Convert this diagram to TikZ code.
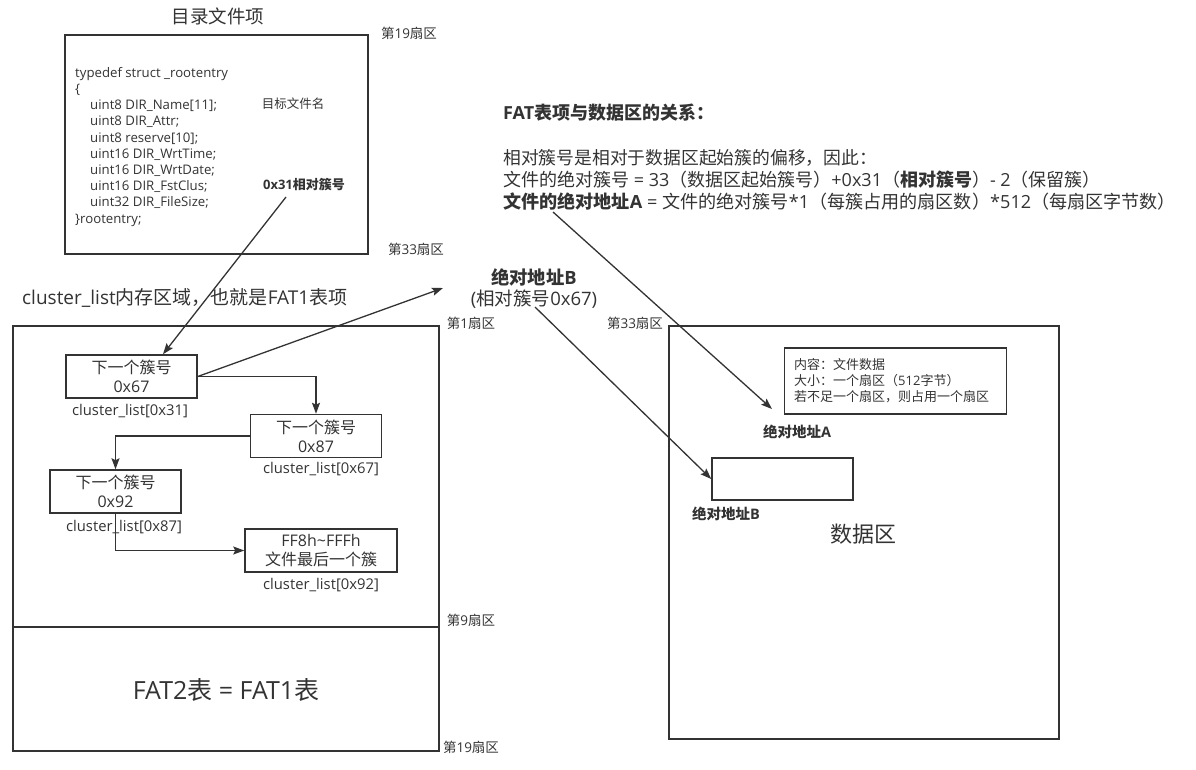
\documentclass[tikz,border=0pt]{standalone}
\usepackage{fontspec}
\setmainfont{Noto Sans CJK SC}
\newfontfamily\latinf{Open Sans}
\usetikzlibrary{arrows.meta}
\definecolor{ink}{HTML}{333333}
\newcommand{\fs}[1]{\fontsize{#1}{#1}\selectfont}
\newcommand{\la}[1]{{\latinf #1}}

\begin{document}
\begin{tikzpicture}[x=1pt, y=-1pt, >={Stealth[length=11pt,width=8pt,inset=2pt]},
    color=ink, text=ink,
    box/.style={draw, line width=1.5pt, align=center, inner sep=0pt},
    entry/.style={box, minimum width=131pt, minimum height=43pt, font={\fontsize{16}{19}\selectfont}, align=center},
    idx/.style={font=\fs{14.8}\latinf, inner sep=0pt},
    sector/.style={font=\fs{13.5}, inner sep=0pt},
    link/.style={->, line width=1.3pt}]
\useasboundingbox (0,0) rectangle (1196,769);

% 目录文件项
\node[font=\fs{18.5}, inner sep=0pt] (dirtitle) at (218,16) {目录文件项};
\node[box, minimum width=303pt, minimum height=219pt] (dir) at (216.5,144.5) {};
\node[sector] (s19a) at (409,33) {第\la{19}扇区};
\node[sector] (s33a) at (416,249) {第\la{33}扇区};
\node[font={\fontsize{13.2}{16.2}\selectfont\latinf}, align=left, anchor=north west, inner sep=0pt] (code) at (75,67)
  {typedef struct \_rootentry\\
   \{\\
   \hspace*{15pt}uint8 DIR\_Name[11];\\
   \hspace*{15pt}uint8 DIR\_Attr;\\
   \hspace*{15pt}uint8 reserve[10];\\
   \hspace*{15pt}uint16 DIR\_WrtTime;\\
   \hspace*{15pt}uint16 DIR\_WrtDate;\\
   \hspace*{15pt}uint16 DIR\_FstClus;\\
   \hspace*{15pt}uint32 DIR\_FileSize;\\
   \}rootentry;};
\node[font=\fs{12.5}, inner sep=0pt] (fname) at (293,104) {目标文件名};
\node[font=\fs{13}\bfseries, inner sep=0pt] (fstclus) at (304,185) {\la{0x31}相对簇号};
\coordinate (fstclusEnd) at (286,197);

% FAT1 / FAT2
\node[font=\fs{19}, anchor=west, inner sep=0pt] (fattitle) at (22,298) {\la{cluster\_list}内存区域，也就是\la{FAT1}表项};
\node[box, minimum width=426pt, minimum height=301pt] (fat1) at (226,476.5) {};
\node[box, minimum width=426pt, minimum height=124pt] (fat2) at (226,689) {};
\node[font=\fs{25}, inner sep=0pt] (fat2txt) at (226,690) {\la{FAT2}表\la{ = FAT1}表};
\node[sector] (s1) at (471,323) {第\la{1}扇区};
\node[sector] (s9) at (471,620) {第\la{9}扇区};
\node[sector] (s19b) at (471,747) {第\la{19}扇区};

% 簇链
\node[entry] (c1) at (131.5,376.5) {下一个簇号\\\la{0x67}};
\node[entry] (c2) at (316,436) {下一个簇号\\\la{0x87}};
\node[entry] (c3) at (115.5,491.5) {下一个簇号\\\la{0x92}};
\node[entry, minimum width=152pt] (c4) at (321,550.5) {\la{FF8h\textasciitilde FFFh}\\文件最后一个簇};
\node[idx] (i1) at (130,411) {cluster\_list[0x31]};
\node[idx] (i2) at (321,469) {cluster\_list[0x67]};
\node[idx] (i3) at (124,527) {cluster\_list[0x87]};
\node[idx] (i4) at (321,585) {cluster\_list[0x92]};

\draw[link] (c1.east) -| (c2.north);
\draw[link] (c2.west) -| (c3.north);
\draw[link] (c3.south) |- (c4.west);
\draw[link] (fstclusEnd) -- ([xshift=31.5pt]c1.north);

% 绝对地址B
\node[font=\fs{18.3}\bfseries, inner sep=0pt] (absB) at (534,277) {绝对地址\la{B}};
\node[font=\fs{18.5}, inner sep=0pt] (relB) at (534,299) {\la{(}相对簇号\la{0x67)}};
\coordinate (absBtip) at (443,288);
\coordinate (relBEnd) at (535,307);
\draw[link] (c1.east) -- (absBtip);

% 关系说明
\node[font=\fs{18}\bfseries, anchor=west, inner sep=0pt] (rel) at (503,113) {\la{FAT}表项与数据区的关系：};
\node[font=\fs{17.8}, anchor=west, inner sep=0pt] (l1) at (503,158) {相对簇号是相对于数据区起始簇的偏移，因此：};
\node[font=\fs{18}, anchor=west, inner sep=0pt] (l2) at (503,180) {文件的绝对簇号\la{ = 33}（数据区起始簇号）\la{+0x31}（\textbf{相对簇号}）\la{- 2}（保留簇）};
\node[font=\fs{18.1}, anchor=west, inner sep=0pt] (l3) at (503,202) {\textbf{文件的绝对地址\la{A}}\la{ = }文件的绝对簇号\la{*1}（每簇占用的扇区数）\la{*512}（每扇区字节数）};
\coordinate (l3End) at (553,212);
\coordinate (absAtip) at (772,409);

% 数据区
\node[box, minimum width=390pt, minimum height=413pt] (data) at (864,532.5) {};
\node[sector] (s33b) at (635,323) {第\la{33}扇区};
\node[box, minimum width=222pt, minimum height=66pt] (info) at (895.5,381) {};
\node[font={\fontsize{13}{16}\selectfont}, align=left, anchor=west, inner sep=0pt] (infotxt) at (794,381)
  {内容：文件数据\\大小：一个扇区（\la{512}字节）\\若不足一个扇区，则占用一个扇区};
\node[font=\fs{14.5}\bfseries, inner sep=0pt] (absA) at (797,432) {绝对地址\la{A}};
\node[box, minimum width=141pt, minimum height=42pt] (blkB) at (782.5,479) {};
\node[font=\fs{14.5}\bfseries, inner sep=0pt] (absB2) at (726,514) {绝对地址\la{B}};
\node[font=\fs{22}, inner sep=0pt] (datatxt) at (863,534) {数据区};

\draw[link] (l3End) -- (absAtip);
\draw[link] (relBEnd) -- (blkB.west);

\end{tikzpicture}
\end{document}
